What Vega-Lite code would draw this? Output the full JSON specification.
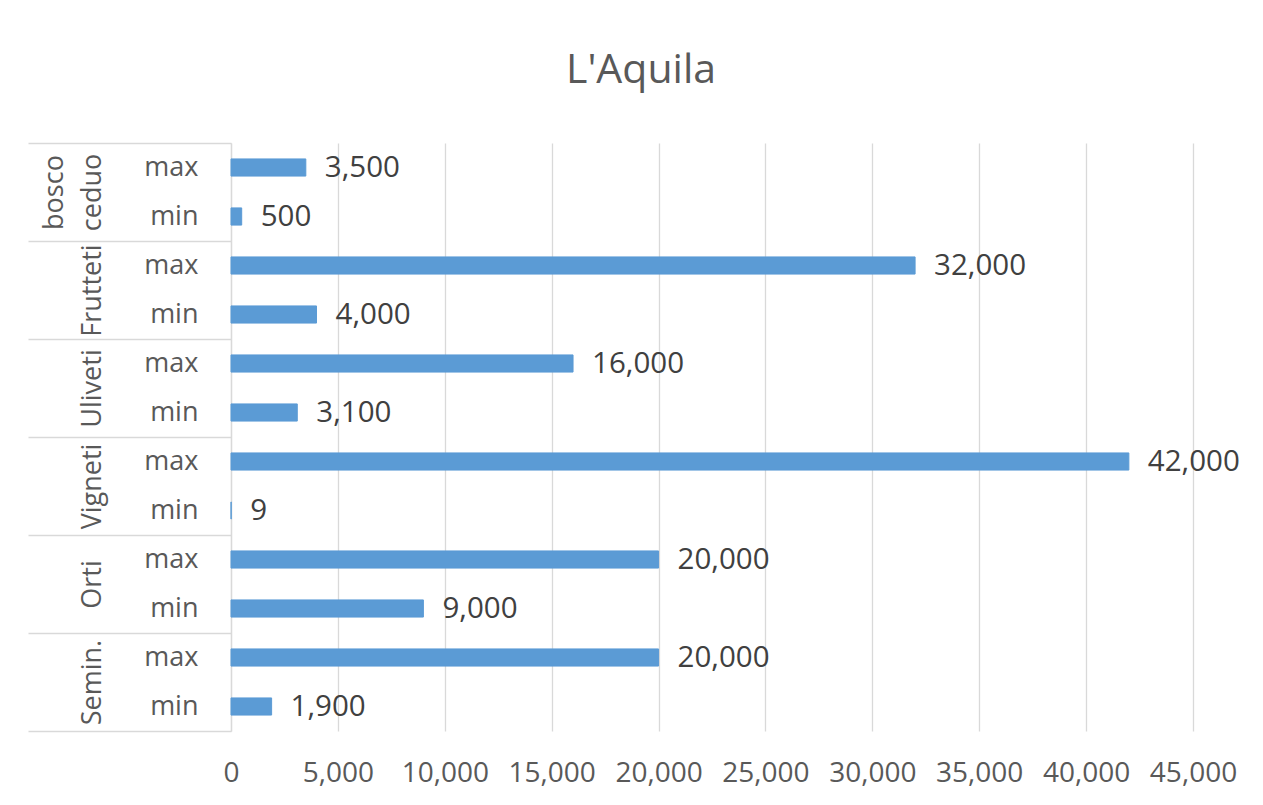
{
  "$schema": "https://vega.github.io/schema/vega-lite/v6.json",
  "width": 962,
  "height": 588,
  "autosize": {"type": "none"},
  "padding": {"left": 231, "top": 143, "right": 70, "bottom": 74},
  "background": "white",
  "config": {"font": "Open Sans", "view": {"stroke": null}},
  "title": {"text": "L'Aquila", "fontSize": 41, "font": "Open Sans", "fontWeight": "normal", "color": "#595959", "anchor": "middle", "dx": -71, "offset": 50},
  "data": {"values": [
    {"group": "bosco ceduo", "level": "max", "row": "bosco ceduo|max", "value": 3500},
    {"group": "bosco ceduo", "level": "min", "row": "bosco ceduo|min", "value": 500},
    {"group": "Frutteti", "level": "max", "row": "Frutteti|max", "value": 32000},
    {"group": "Frutteti", "level": "min", "row": "Frutteti|min", "value": 4000},
    {"group": "Uliveti", "level": "max", "row": "Uliveti|max", "value": 16000},
    {"group": "Uliveti", "level": "min", "row": "Uliveti|min", "value": 3100},
    {"group": "Vigneti", "level": "max", "row": "Vigneti|max", "value": 42000},
    {"group": "Vigneti", "level": "min", "row": "Vigneti|min", "value": 9},
    {"group": "Orti", "level": "max", "row": "Orti|max", "value": 20000},
    {"group": "Orti", "level": "min", "row": "Orti|min", "value": 9000},
    {"group": "Semin.", "level": "max", "row": "Semin.|max", "value": 20000},
    {"group": "Semin.", "level": "min", "row": "Semin.|min", "value": 1900}
  ]},
  "layer": [
    {
      "mark": {"type": "bar", "color": "#5B9BD5", "stroke": "#5B9BD5", "strokeWidth": 1},
      "encoding": {
        "y": {"field": "row", "type": "nominal", "sort": null,
              "scale": {"paddingInner": 0.65, "paddingOuter": 0.325},
              "axis": {"title": null, "orient": "left", "ticks": false, "domain": false,
                       "labelExpr": "split(datum.value, '|')[1]", "labelFontSize": 27,
                       "labelColor": "#595959", "labelPadding": 33, "labelAlign": "right",
                       "labelBaseline": "middle"}},
        "x": {"field": "value", "type": "quantitative",
              "scale": {"domain": [0, 45000], "nice": false},
              "axis": {"title": null, "values": [0, 5000, 10000, 15000, 20000, 25000, 30000, 35000, 40000, 45000],
                       "format": ",.0f", "ticks": false, "domain": false, "grid": true,
                       "gridColor": "#d9d9d9", "gridWidth": 1.3, "labelFontSize": 28,
                       "labelColor": "#595959", "labelPadding": 28, "labelFlush": false}}
      }
    },
    {
      "mark": {"type": "text", "align": "left", "baseline": "middle", "dx": 19, "fontSize": 29.5, "color": "#404040"},
      "encoding": {
        "y": {"field": "row", "type": "nominal", "sort": null, "axis": null},
        "x": {"field": "value", "type": "quantitative"},
        "text": {"field": "value", "type": "quantitative", "format": ",.0f"}
      }
    },
    {
      "mark": {"type": "bar", "opacity": 0},
      "encoding": {
        "y": {"field": "group", "type": "nominal", "sort": null,
              "scale": {"paddingInner": 0, "paddingOuter": 0},
              "axis": {"title": null, "orient": "left", "ticks": true, "tickBand": "extent",
                       "tickSize": 203, "tickColor": "#d9d9d9", "tickWidth": 1.3,
                       "domain": true, "domainColor": "#d9d9d9", "domainWidth": 1.3,
                       "labelAngle": -90, "labelAlign": "center", "labelBaseline": "bottom",
                       "labelPadding": -40, "labelFontSize": 27, "labelColor": "#595959",
                       "labelLineHeight": 38, "labelLimit": 0, "labelOverlap": false,
                       "labelExpr": "datum.value == 'bosco ceduo' ? ['bosco', 'ceduo'] : [' ', datum.value]"}},
        "x": {"field": "value", "type": "quantitative"}
      }
    }
  ],
  "resolve": {"scale": {"y": "independent"}}
}
